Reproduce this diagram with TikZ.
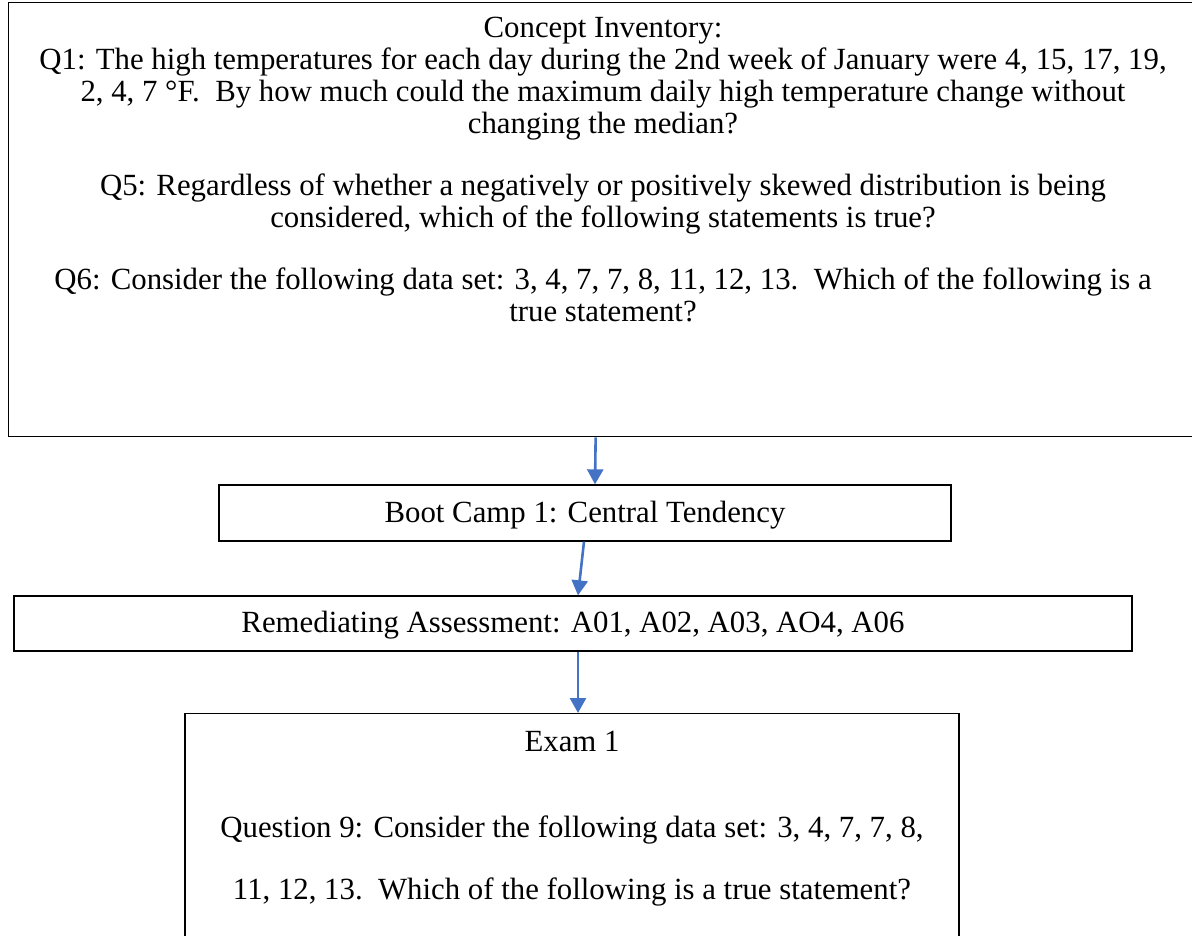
\documentclass[tikz,border=0pt]{standalone}
\usepackage{fontspec}
\setmainfont{Liberation Serif}
\usetikzlibrary{arrows.meta}
\definecolor{flowblue}{RGB}{68,114,196}
\begin{document}
\begin{tikzpicture}[x=1pt,y=-1pt,
  box/.style={draw=black,line width=1.3pt,inner sep=0pt},
  txt/.style={font=\fontsize{30.8}{32}\selectfont,inner sep=0pt,align=center},
  steptxt/.style={txt,text height=25.5pt,text depth=7pt},
  flow/.style={draw=flowblue,line width=2.6pt,-{Triangle[width=16pt,length=15pt]}}]
\useasboundingbox (0,0) rectangle (1192,936);
\clip (0,0) rectangle (1192,936);

% concept inventory panel (runs off the right edge)
\node[box,anchor=north west,minimum width=1190pt,minimum height=434pt] (ci) at (8,2) {};
\node[txt,anchor=north] (citext) at (603,17) {Concept Inventory:\\
Q1: The high temperatures for each day during the 2nd week of January were 4, 15, 17, 19,\\
2, 4, 7 °F.\ \ By how much could the maximum daily high temperature change without\\
changing the median?\\[30pt]
Q5: Regardless of whether a negatively or positively skewed distribution is being\\
considered, which of the following statements is true?\\[30pt]
Q6: Consider the following data set: 3, 4, 7, 7, 8, 11, 12, 13.\ \ Which of the following is a\\
true statement?};

% boot camp and remediation steps
\node[box,steptxt,minimum width=732pt,minimum height=56pt] (boot) at (585,513) {Boot Camp 1: Central Tendency};
\node[box,steptxt,minimum width=1118pt,minimum height=55pt] (remed) at (573,623.5) {Remediating Assessment: A01, A02, A03, AO4, A06};

% exam panel (runs off the bottom edge)
\node[box,anchor=north,minimum width=774pt,minimum height=300pt] (exam) at (572,713) {};
\node[txt] (examtitle) at (572,741) {Exam 1};
\node[txt,font=\fontsize{30.8}{62}\selectfont] (examq) at (572,861) {Question 9: Consider the following data set: 3, 4, 7, 7, 8,\\
11, 12, 13.\ \ Which of the following is a true statement?};

% flow arrows
\draw[flow] ([xshift=-8pt]ci.south) -- ([xshift=10pt]boot.north);
\draw[flow] ([xshift=-1pt]boot.south) -- ([xshift=5pt]remed.north);
\draw[flow] ([xshift=5pt]remed.south) -- ([xshift=6pt]exam.north);
\end{tikzpicture}
\end{document}
